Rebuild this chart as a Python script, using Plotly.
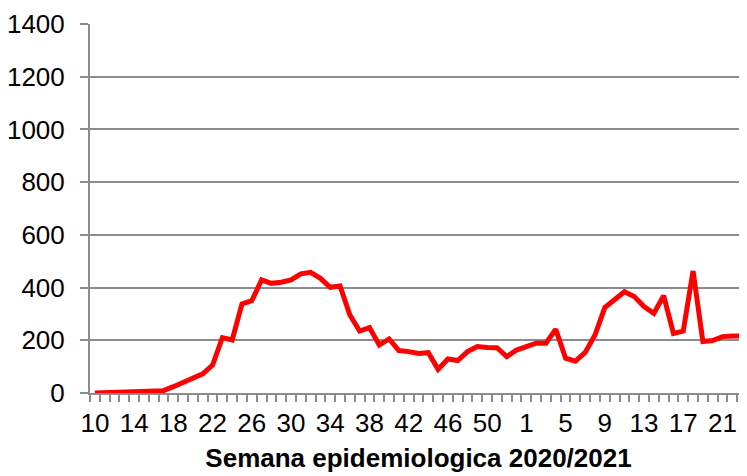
import plotly.graph_objects as go

# Semana epidemiologica: 2020 (10-53) y 2021 (1-23)
weeks_2020 = list(range(10, 54))
weeks_2021 = list(range(1, 24))
weeks = weeks_2020 + weeks_2021

cases = [
    0, 1, 4, 6, 8, 5, 6, 9,            # 10-17
    24, 40, 58, 73, 106, 210, 201, 338, 350,   # 18-26
    429, 416, 420, 429, 452, 458, 435, 401, 406,   # 27-35
    296, 235, 248, 182, 205, 161, 157, 150, 153,   # 36-44
    90, 129, 123, 157, 176, 173, 172, 138, 163,    # 45-53
    176, 189, 189, 242, 132, 121, 154, 220, 324,   # 2021: 1-9
    356, 384, 366, 328, 302, 369, 226, 235, 463,   # 10-18
    195, 199, 214, 216, 216,                       # 19-23
]

x_idx = list(range(len(weeks)))
tick_pos = x_idx[::4]
tick_txt = [str(weeks[i]) for i in tick_pos]
xrange = [-0.5, len(weeks) - 0.5]

grid = "#8c8c8c"

fig = go.Figure()
fig.add_trace(go.Scatter(x=x_idx, y=cases, mode="lines",
                         line=dict(color="#ff0000", width=5)))
# invisible copy so the label axis gets drawn
fig.add_trace(go.Scatter(x=x_idx, y=cases, mode="lines", xaxis="x2",
                         line=dict(color="rgba(0,0,0,0)", width=0),
                         hoverinfo="skip"))

# page body has an 8px margin, so the figure is a bit smaller than the window
fig.update_layout(
    width=739, height=468,
    margin=dict(l=82, r=0, t=16, b=83),
    plot_bgcolor="white", paper_bgcolor="white",
    showlegend=False,
    font=dict(family="Liberation Sans, Arial", size=26, color="black"),
    # bottom axis: only the small ticks between the weeks
    xaxis=dict(
        automargin=False, range=xrange,
        tickmode="linear", tick0=-0.5, dtick=1, showticklabels=False,
        showgrid=False, zeroline=False,
        showline=True, linecolor=grid, linewidth=2,
        ticks="outside", ticklen=7, tickcolor=grid, tickwidth=1.5,
    ),
    # overlaid axis with the week labels every 4 weeks
    xaxis2=dict(
        automargin=False, range=xrange, overlaying="x", side="bottom",
        anchor="y",
        tickmode="array", tickvals=tick_pos, ticktext=tick_txt,
        showgrid=False, zeroline=False, showline=False,
        ticks="outside", ticklen=7, tickcolor="rgba(0,0,0,0)",
        title=dict(text="<b>Semana epidemiologica 2020/2021</b>",
                   font=dict(size=26), standoff=11),
    ),
    yaxis=dict(
        automargin=False,
        range=[0, 1400], dtick=200,
        showgrid=True, gridcolor=grid, gridwidth=2,
        zeroline=False,
        showline=True, linecolor=grid, linewidth=2,
        ticks="outside", ticklen=8, tickcolor=grid, tickwidth=2,
        ticklabelstandoff=10,
    ),
)

fig.write_html("out.html")
